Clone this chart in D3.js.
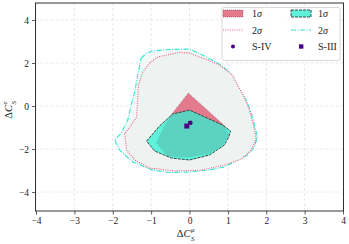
<!DOCTYPE html>
<html>
<head>
<meta charset="utf-8">
<script src="https://cdn.jsdelivr.net/npm/d3@7"></script>
<style>
  body { margin: 0; background: #fff; }
  svg text { font-family: "Liberation Serif", "DejaVu Serif", serif; fill: #222; }
</style>
</head>
<body>
<div class="chart"></div>
<script>
// contour outlines as [x, y] pairs
const cyan2sigma = [
  [-1.26, 2.22], [-1.12, 2.47], [-0.96, 2.56], [-0.52, 2.63], [0, 2.65],
  [0.34, 2.37], [0.78, 1.95], [1.04, 1.58], [1.17, 1.21], [1.30, 0.74],
  [1.48, 0.28], [1.61, -0.33], [1.69, -0.88], [1.77, -1.44], [1.69, -1.91],
  [1.51, -2.28], [1.25, -2.51], [0.91, -2.84], [0.47, -2.98], [0, -3.07],
  [-0.52, -3.09], [-0.96, -2.98], [-1.48, -2.60], [-1.82, -2.05], [-1.95, -1.58],
  [-1.78, -1.26], [-1.61, -0.65], [-1.52, 0.05], [-1.43, 0.65], [-1.35, 1.44]
];
const red2sigma = [
  [-1.04, 2.0], [-0.83, 2.28], [-0.60, 2.37], [-0.26, 2.49], [0, 2.47],
  [0.34, 2.23], [0.78, 1.91], [1.12, 1.44], [1.25, 0.98], [1.43, 0.42],
  [1.56, -0.19], [1.67, -0.88], [1.74, -1.53], [1.61, -2.05], [1.35, -2.47],
  [0.91, -2.74], [0.31, -2.98], [-0.39, -3.02], [-1.04, -2.88], [-1.43, -2.51],
  [-1.64, -2.05], [-1.69, -1.26], [-1.61, -1.12], [-1.38, -0.51], [-1.35, 0.28],
  [-1.33, 0.98], [-1.22, 1.58]
];
const red1sigma = [
  [-0.03, 0.60], [0.89, -0.88], [1.02, -1.35], [0.83, -1.86], [0.47, -2.23],
  [-0.05, -2.37], [-0.57, -2.33], [-0.86, -1.72], [-0.65, -0.93], [-0.44, -0.33]
];
const cyan1sigma = [
  [-1.12, -1.63], [-0.78, -0.93], [-0.44, -0.37], [0, -0.19], [0.86, -0.88],
  [1.07, -1.16], [1.02, -1.44], [0.91, -1.81], [0.52, -2.28], [0, -2.51],
  [-0.47, -2.42], [-0.91, -2.09]
];
// best fit points
const pointS4 = [0.02, -0.78];
const pointS3 = [-0.07, -0.93];

const xTicks = [-4, -3, -2, -1, 0, 1, 2, 3, 4];
const yTicks = [-4, -2, 0, 2, 4];

const width = 349, height = 244;
const mLeft = 36, mRight = 343, mTop = 3, mBottom = 211;

const svg = d3.select(".chart").append("svg")
  .attr("width", width).attr("height", height);

const x = d3.scaleLinear().domain([-4, 4]).range([mLeft, mRight]);
const y = d3.scaleLinear().domain([-4.88, 4.79]).range([mBottom, mTop]);

// grid
svg.append("g").selectAll("line").data(xTicks).join("line")
  .attr("x1", d => x(d)).attr("x2", d => x(d))
  .attr("y1", mTop).attr("y2", mBottom)
  .attr("stroke", "#e3e3e3").attr("stroke-width", 0.8)
  .attr("stroke-dasharray", "3,2");
svg.append("g").selectAll("line").data(yTicks).join("line")
  .attr("x1", mLeft - 0.5).attr("x2", mRight + 0.5)
  .attr("y1", d => y(d)).attr("y2", d => y(d))
  .attr("stroke", "#e3e3e3").attr("stroke-width", 0.8)
  .attr("stroke-dasharray", "3,2");

const line = d3.line().x(d => x(d[0])).y(d => y(d[1])).curve(d3.curveLinearClosed);

// 2 sigma regions
svg.append("path").attr("d", line(cyan2sigma))
  .attr("fill", "#f1f8f7")
  .attr("stroke", "#2fe6d2").attr("stroke-width", 1.1)
  .attr("stroke-dasharray", "5,1.5,1,1.5");
svg.append("path").attr("d", line(red2sigma))
  .attr("fill", "#eef2f0")
  .attr("stroke", "#ec5f7c").attr("stroke-width", 1.1)
  .attr("stroke-dasharray", "1,1.3");

// 1 sigma regions
svg.append("path").attr("d", line(red1sigma))
  .attr("fill", "#e47a8e")
  .attr("stroke", "#8c3a4c").attr("stroke-width", 0.6)
  .attr("stroke-dasharray", "1,1");
svg.append("path").attr("d", line(cyan1sigma))
  .attr("fill", "#2ff0d2").attr("fill-opacity", 0.75)
  .attr("stroke", "#2b3b38").attr("stroke-width", 0.9)
  .attr("stroke-dasharray", "3,1");

// points
svg.append("circle")
  .attr("cx", x(pointS4[0])).attr("cy", y(pointS4[1]))
  .attr("r", 2.4).attr("fill", "#4b0082");
svg.append("rect")
  .attr("x", x(pointS3[0]) - 2.5).attr("y", y(pointS3[1]) - 2.5)
  .attr("width", 5).attr("height", 5).attr("fill", "#4b0082");

// axes
const xAxis = svg.append("g").attr("transform", `translate(0,${mBottom})`)
  .call(d3.axisBottom(x).tickValues(xTicks).tickSize(3.5).tickSizeOuter(0).tickPadding(3));
const yAxis = svg.append("g").attr("transform", `translate(${mLeft - 0.5},0)`)
  .call(d3.axisLeft(y).tickValues(yTicks).tickSize(3.5).tickSizeOuter(0).tickPadding(3));
[xAxis, yAxis].forEach(a => {
  a.select(".domain").remove();
  a.selectAll("line").attr("stroke", "#333").attr("stroke-width", 0.8);
  a.selectAll("text").attr("font-size", 9.5).attr("fill", "#333")
    .attr("font-family", "Liberation Serif, serif");
});

// frame
svg.append("rect")
  .attr("x", mLeft - 0.5).attr("y", mTop).attr("width", mRight - mLeft + 1).attr("height", mBottom - mTop)
  .attr("fill", "none").attr("stroke", "#333").attr("stroke-width", 1);

// axis labels: ΔC with stacked sub/superscript
const axisLabel = (g, sup) => {
  g.append("text").attr("x", -3).attr("y", 0).attr("text-anchor", "end")
    .attr("font-size", 10.5).html('Δ<tspan font-style="italic">C</tspan>');
  g.append("text").attr("x", -2.5).attr("y", -5.5)
    .attr("font-size", 7).attr("font-style", "italic").text(sup);
  g.append("text").attr("x", -2.5).attr("y", 4)
    .attr("font-size", 7).attr("font-style", "italic").text("S");
};
axisLabel(svg.append("g").attr("transform", `translate(${x(0) + 4},237)`), "μ");
axisLabel(svg.append("g").attr("transform", `translate(12,${y(0) - 4}) rotate(-90)`), "e");

// legend
const lg = svg.append("g");
lg.append("rect").attr("x", 222).attr("y", 7.5).attr("width", 118).attr("height", 53)
  .attr("rx", 2).attr("fill", "#fff").attr("fill-opacity", 0.85)
  .attr("stroke", "#cfcfcf").attr("stroke-width", 0.8);

const rows = [13.5, 30, 46.5];
const cols = [223, 291];
const sigmaLabel = (g, xx, yy, n) => {
  const t = g.append("text").attr("x", xx).attr("y", yy + 3.5).attr("font-size", 10);
  t.append("tspan").text(n);
  t.append("tspan").attr("font-style", "italic").text("σ");
};
// row 1: 1 sigma patches
lg.append("rect").attr("x", cols[0]).attr("y", rows[0] - 3.5).attr("width", 20).attr("height", 7)
  .attr("fill", "#e47a8e").attr("stroke", "#8c3a4c").attr("stroke-width", 0.6).attr("stroke-dasharray", "1,1");
lg.append("rect").attr("x", cols[1]).attr("y", rows[0] - 3.5).attr("width", 20).attr("height", 7)
  .attr("fill", "#5ff0da").attr("stroke", "#2b3b38").attr("stroke-width", 0.9).attr("stroke-dasharray", "3,1");
sigmaLabel(lg, 252, rows[0], "1");
sigmaLabel(lg, 318, rows[0], "1");
// row 2: 2 sigma lines
lg.append("line").attr("x1", cols[0]).attr("x2", cols[0] + 20).attr("y1", rows[1]).attr("y2", rows[1])
  .attr("stroke", "#ec5f7c").attr("stroke-width", 1.1).attr("stroke-dasharray", "1,1.3");
lg.append("line").attr("x1", cols[1]).attr("x2", cols[1] + 20).attr("y1", rows[1]).attr("y2", rows[1])
  .attr("stroke", "#2fe6d2").attr("stroke-width", 1.1).attr("stroke-dasharray", "5,1.5,1,1.5");
sigmaLabel(lg, 252, rows[1], "2");
sigmaLabel(lg, 318, rows[1], "2");
// row 3: points
lg.append("circle").attr("cx", cols[0] + 10).attr("cy", rows[2]).attr("r", 2).attr("fill", "#4b0082");
lg.append("rect").attr("x", cols[1] + 8).attr("y", rows[2] - 2.2).attr("width", 4.4).attr("height", 4.4).attr("fill", "#4b0082");
lg.append("text").attr("x", 252).attr("y", rows[2] + 3.5).attr("font-size", 10).text("S-IV");
lg.append("text").attr("x", 318).attr("y", rows[2] + 3.5).attr("font-size", 10).text("S-III");
</script>
</body>
</html>
